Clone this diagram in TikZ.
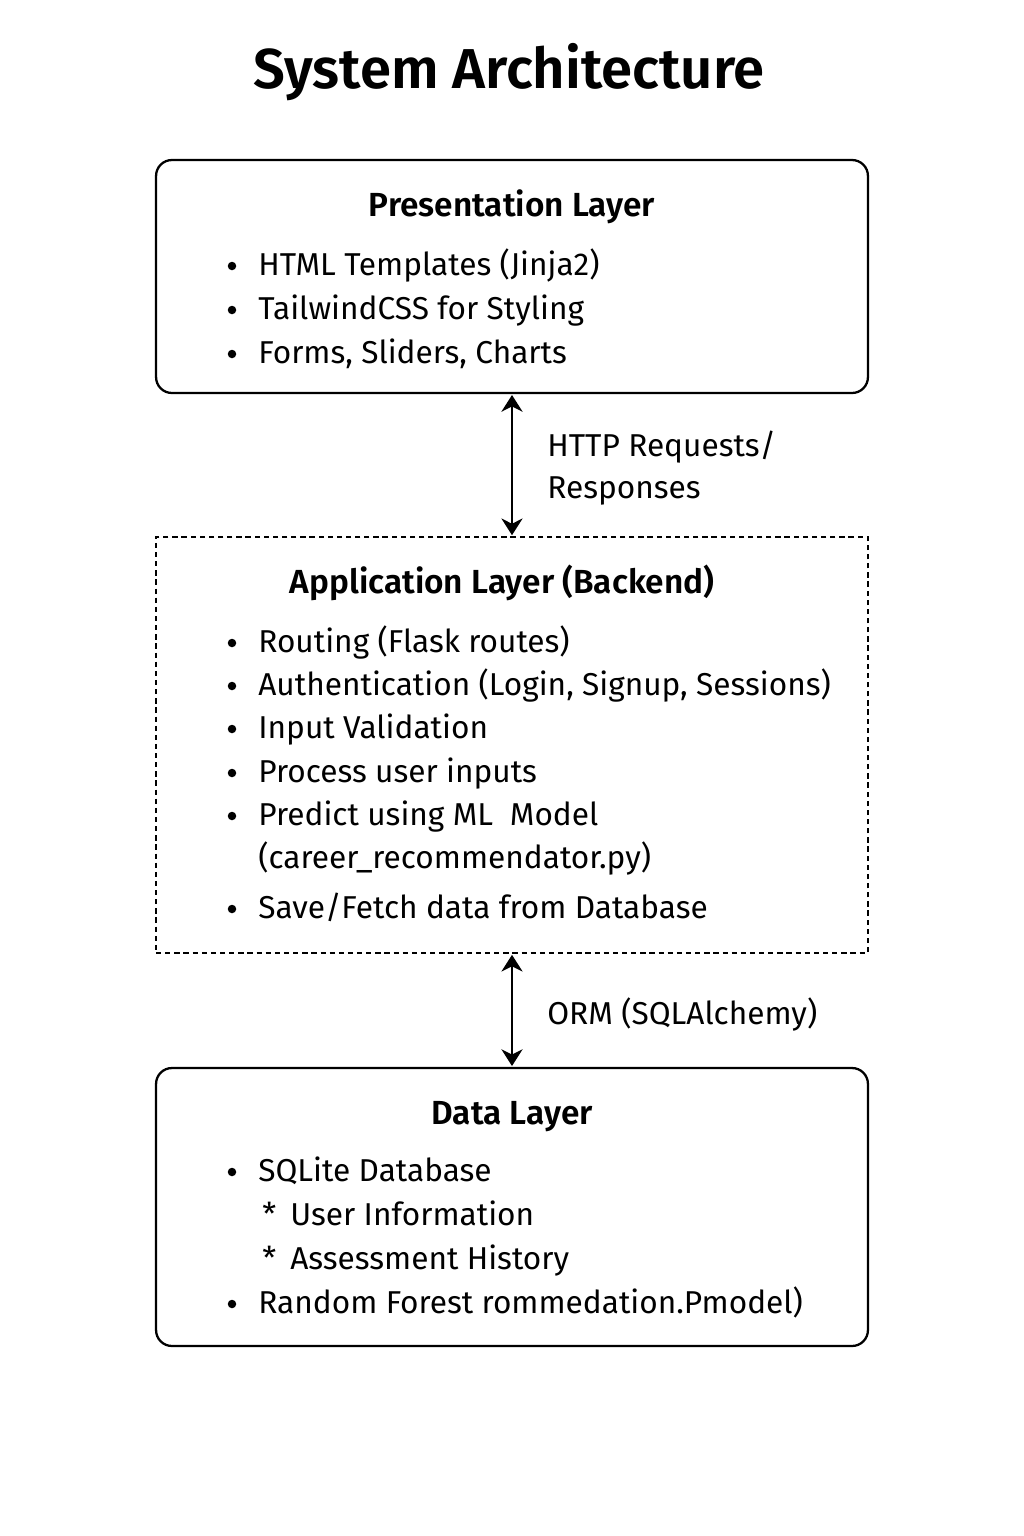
\documentclass[tikz,border=0pt]{standalone}
\usepackage{fontspec}
\setmainfont{Fira Sans}[BoldFont={Fira Sans SemiBold}]
\usetikzlibrary{arrows.meta}

\tikzset{
  layer/.style={draw, line width=1.3pt, rounded corners=9pt, minimum width=14.24cm, inner sep=0pt},
  dashlayer/.style={draw, line width=1.1pt, dash pattern=on 3pt off 2.2pt, minimum width=14.24cm, inner sep=0pt},
  hdr/.style={anchor=base, inner sep=0pt, font=\fontsize{19}{22}\selectfont\bfseries},
  txt/.style={anchor=base west, inner sep=0pt, font=\fontsize{18}{21}\selectfont},
  link/.style={{Stealth[length=9.5pt,width=12pt,inset=3pt]}-{Stealth[length=9.5pt,width=12pt,inset=3pt]}, line width=1.5pt, shorten <=0.5pt, shorten >=0.5pt},
}
% one bullet line: name, baseline, text
\newcommand{\bitem}[3]{\fill (232,#2-9) circle[radius=0.085cm] coordinate (#1b); \node[txt] (#1) at (258,#2) {#3};}
% one sub line with a star
\newcommand{\sitem}[3]{\node[txt] (#1b) at (262,#2) {*}; \node[txt] (#1) at (290,#2) {#3};}

\begin{document}
\begin{tikzpicture}[x=0.02cm,y=-0.02cm]
  \useasboundingbox (0,0) rectangle (1024,1536);
  \node[anchor=base, inner sep=0pt, font=\fontsize{32}{38}\selectfont\bfseries] (title) at (509,88) {System Architecture};

  % presentation layer
  \node[layer, minimum height=4.66cm] (pres) at (512,276.5) {};
  \node[hdr] (presh) at (512,216) {Presentation Layer};
  \bitem{p1}{275}{HTML Templates (Jinja2)}
  \bitem{p2}{319}{TailwindCSS for Styling}
  \bitem{p3}{363}{Forms, Sliders, Charts}

  % application layer
  \node[dashlayer, minimum height=8.32cm] (app) at (512,745) {};
  \node[hdr] (apph) at (502,593) {Application Layer (Backend)};
  \bitem{a1}{652}{Routing (Flask routes)}
  \bitem{a2}{695}{Authentication (Login, Signup, Sessions)}
  \bitem{a3}{738}{Input Validation}
  \bitem{a4}{782}{Process user inputs}
  \bitem{a5}{825}{Predict using ML\ \ Model}
  \node[txt] (a5b2) at (258,868) {(career\_recommendator.py)};
  \bitem{a6}{918}{Save/Fetch data from Database}

  % data layer
  \node[layer, minimum height=5.56cm] (data) at (512,1207) {};
  \node[hdr] (datah) at (512,1124) {Data Layer};
  \bitem{d1}{1181}{SQLite Database}
  \sitem{d2}{1225}{User Information}
  \sitem{d3}{1269}{Assessment History}
  \bitem{d4}{1313}{Random Forest rommedation.Pmodel)}

  % connectors
  \draw[link] (pres.south) -- (app.north);
  \node[txt] (http1) at (547,456) {HTTP Requests/};
  \node[txt] (http2) at (547,498) {Responses};
  \draw[link] (app.south) -- (data.north);
  \node[txt] (orm) at (547,1024) {ORM (SQLAlchemy)};
\end{tikzpicture}
\end{document}
